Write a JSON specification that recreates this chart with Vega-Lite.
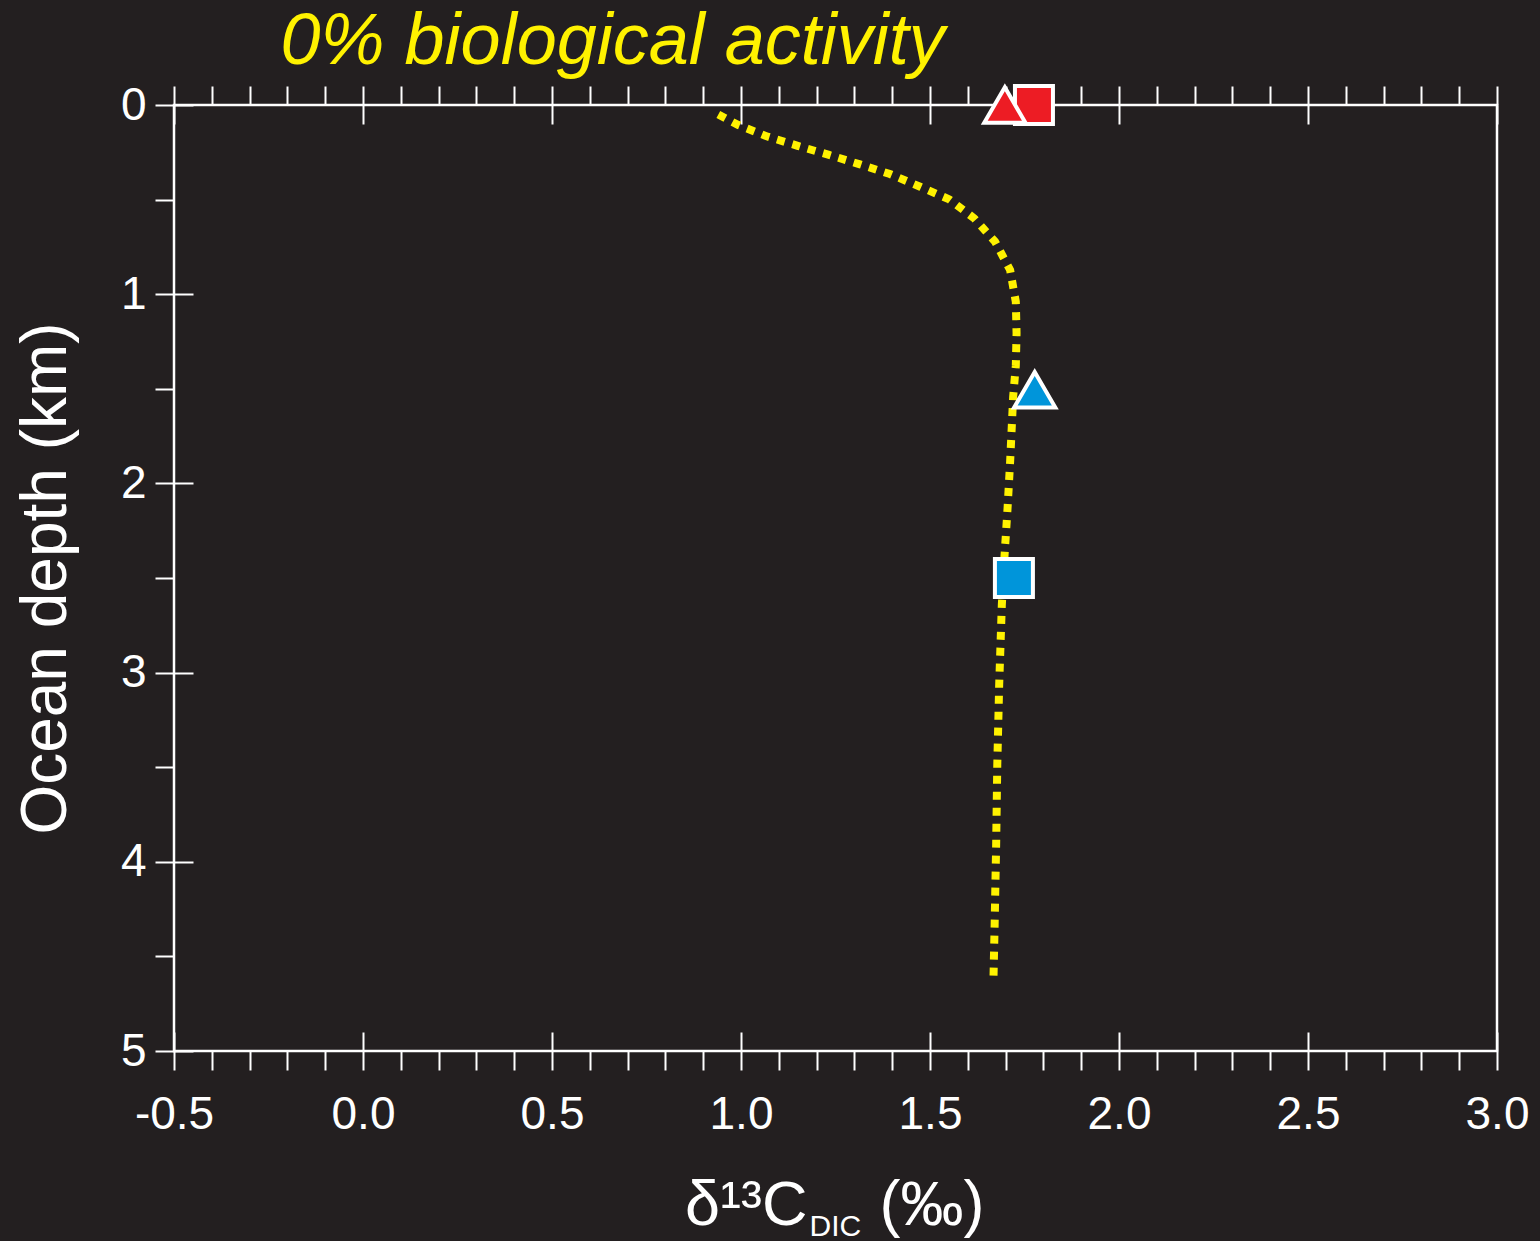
{
  "$schema": "https://vega.github.io/schema/vega-lite/v6.json",
  "width": 1323,
  "height": 946,
  "autosize": {"type": "none"},
  "padding": {"left": 174, "top": 105, "right": 43, "bottom": 190},
  "background": "#231f20",
  "config": {
    "view": {"stroke": "#ffffff", "strokeWidth": 2.5},
    "axis": {
      "domain": false,
      "grid": false,
      "tickColor": "#ffffff",
      "tickWidth": 2,
      "labelColor": "#ffffff",
      "labelFont": "Liberation Sans",
      "labelFontSize": 46,
      "labelFlush": false,
      "labelOverlap": false,
      "labelBound": false,
      "titleColor": "#ffffff",
      "titleFont": "Liberation Sans",
      "titleFontWeight": "normal"
    }
  },
  "datasets": {
    "profile": [
      {"depth": 0.05, "d13c": 0.94},
      {"depth": 0.106, "d13c": 0.993},
      {"depth": 0.167, "d13c": 1.07},
      {"depth": 0.217, "d13c": 1.152},
      {"depth": 0.264, "d13c": 1.233},
      {"depth": 0.314, "d13c": 1.315},
      {"depth": 0.365, "d13c": 1.394},
      {"depth": 0.432, "d13c": 1.474},
      {"depth": 0.499, "d13c": 1.551},
      {"depth": 0.599, "d13c": 1.617},
      {"depth": 0.722, "d13c": 1.672},
      {"depth": 0.872, "d13c": 1.712},
      {"depth": 1.04, "d13c": 1.727},
      {"depth": 1.207, "d13c": 1.729},
      {"depth": 1.378, "d13c": 1.727},
      {"depth": 1.542, "d13c": 1.72},
      {"depth": 1.885, "d13c": 1.712},
      {"depth": 2.137, "d13c": 1.705},
      {"depth": 2.387, "d13c": 1.697},
      {"depth": 2.643, "d13c": 1.69},
      {"depth": 3.065, "d13c": 1.683},
      {"depth": 3.488, "d13c": 1.678},
      {"depth": 3.911, "d13c": 1.675},
      {"depth": 4.334, "d13c": 1.671},
      {"depth": 4.61, "d13c": 1.668}
    ],
    "squares": [
      {"sample": "surface", "depth": 0, "d13c": 1.775},
      {"sample": "deep", "depth": 2.5, "d13c": 1.722}
    ],
    "triangles": [
      {"sample": "surface", "depth": 0, "d13c": 1.698},
      {"sample": "deep", "depth": 1.505, "d13c": 1.777}
    ]
  },
  "resolve": {"axis": {"x": "independent", "y": "independent"}},
  "layer": [
    {
      "data": {"name": "profile"},
      "mark": {"type": "line", "color": "#fff200", "strokeWidth": 8, "strokeDash": [8, 8], "strokeCap": "butt", "clip": false},
      "encoding": {
        "x": {
          "field": "d13c", "type": "quantitative",
          "scale": {"domain": [-0.5, 3.0], "nice": false, "zero": false},
          "axis": {
            "orient": "bottom",
            "values": [-0.5, -0.4, -0.3, -0.2, -0.1, 0, 0.1, 0.2, 0.3, 0.4, 0.5, 0.6, 0.7, 0.8, 0.9, 1.0, 1.1, 1.2, 1.3, 1.4, 1.5, 1.6, 1.7, 1.8, 1.9, 2.0, 2.1, 2.2, 2.3, 2.4, 2.5, 2.6, 2.7, 2.8, 2.9, 3.0],
            "tickSize": 19,
            "labelPadding": 22,
            "labelExpr": "abs(datum.value * 2 - round(datum.value * 2)) < 0.000001 ? replace(format(datum.value, '.1f'), '\u2212', '-') : ''",
            "title": "δ¹³C",
            "titleFontSize": 63,
            "titleX": 633,
            "titleY": 173,
            "titleAlign": "right",
            "titleBaseline": "alphabetic"
          }
        },
        "y": {
          "field": "depth", "type": "quantitative",
          "scale": {"domain": [0, 5], "reverse": true, "nice": false, "zero": false},
          "axis": {
            "orient": "left",
            "values": [0, 0.5, 1, 1.5, 2, 2.5, 3, 3.5, 4, 4.5, 5],
            "tickSize": 19,
            "labelPadding": 9,
            "labelExpr": "datum.value % 1 == 0 ? format(datum.value, 'd') : ''",
            "title": "Ocean depth (km)",
            "titleFontSize": 64,
            "titleAngle": 270,
            "titleX": -109,
            "titleY": 473,
            "titleAlign": "center",
            "titleBaseline": "alphabetic"
          }
        },
        "order": {"field": "depth", "type": "quantitative"}
      }
    },
    {
      "data": {"name": "squares"},
      "mark": {"type": "point", "shape": "square", "filled": true, "size": 1444, "stroke": "#ffffff", "strokeWidth": 4, "opacity": 1, "clip": false},
      "encoding": {
        "x": {
          "field": "d13c", "type": "quantitative",
          "scale": {"domain": [-0.5, 3.0], "nice": false, "zero": false},
          "axis": {
            "orient": "bottom",
            "values": [-0.5, 0, 0.5, 1.0, 1.5, 2.0, 2.5, 3.0],
            "tickSize": -19,
            "labels": false,
            "title": "DIC",
            "titleFontSize": 30,
            "titleX": 635,
            "titleY": 184,
            "titleAlign": "left",
            "titleBaseline": "alphabetic"
          }
        },
        "y": {
          "field": "depth", "type": "quantitative",
          "scale": {"domain": [0, 5], "reverse": true, "nice": false, "zero": false},
          "axis": {
            "orient": "left",
            "values": [0, 1, 2, 3, 4, 5],
            "tickSize": -19,
            "labels": false,
            "title": null
          }
        },
        "fill": {
          "field": "sample", "type": "nominal",
          "scale": {"domain": ["surface", "deep"], "range": ["#ed1c24", "#0095da"]},
          "legend": null
        }
      }
    },
    {
      "data": {"name": "triangles"},
      "mark": {"type": "point", "shape": "triangle-up", "filled": true, "size": 1700, "stroke": "#ffffff", "strokeWidth": 4, "opacity": 1, "clip": false},
      "encoding": {
        "x": {
          "field": "d13c", "type": "quantitative",
          "scale": {"domain": [-0.5, 3.0], "nice": false, "zero": false},
          "axis": {
            "orient": "top",
            "values": [-0.5, -0.4, -0.3, -0.2, -0.1, 0, 0.1, 0.2, 0.3, 0.4, 0.5, 0.6, 0.7, 0.8, 0.9, 1.0, 1.1, 1.2, 1.3, 1.4, 1.5, 1.6, 1.7, 1.8, 1.9, 2.0, 2.1, 2.2, 2.3, 2.4, 2.5, 2.6, 2.7, 2.8, 2.9, 3.0],
            "tickSize": 19,
            "labels": false,
            "title": "0% biological activity",
            "titleColor": "#fff200",
            "titleFontSize": 72,
            "titleFontStyle": "italic",
            "titleX": 106,
            "titleY": -42,
            "titleAlign": "left",
            "titleBaseline": "alphabetic"
          }
        },
        "y": {
          "field": "depth", "type": "quantitative",
          "scale": {"domain": [0, 5], "reverse": true, "nice": false, "zero": false},
          "axis": null
        },
        "fill": {
          "field": "sample", "type": "nominal",
          "scale": {"domain": ["surface", "deep"], "range": ["#ed1c24", "#0095da"]},
          "legend": null
        }
      }
    },
    {
      "data": {"name": "profile"},
      "mark": {"type": "point", "opacity": 0},
      "encoding": {
        "x": {
          "field": "d13c", "type": "quantitative",
          "scale": {"domain": [-0.5, 3.0], "nice": false, "zero": false},
          "axis": {
            "orient": "top",
            "values": [-0.5, 0, 0.5, 1.0, 1.5, 2.0, 2.5, 3.0],
            "tickSize": -19,
            "labels": false,
            "title": "(‰)",
            "titleFontSize": 63,
            "titleX": 705,
            "titleY": 1119,
            "titleAlign": "left",
            "titleBaseline": "alphabetic"
          }
        },
        "y": {
          "field": "depth", "type": "quantitative",
          "scale": {"domain": [0, 5], "reverse": true, "nice": false, "zero": false},
          "axis": null
        }
      }
    }
  ]
}
